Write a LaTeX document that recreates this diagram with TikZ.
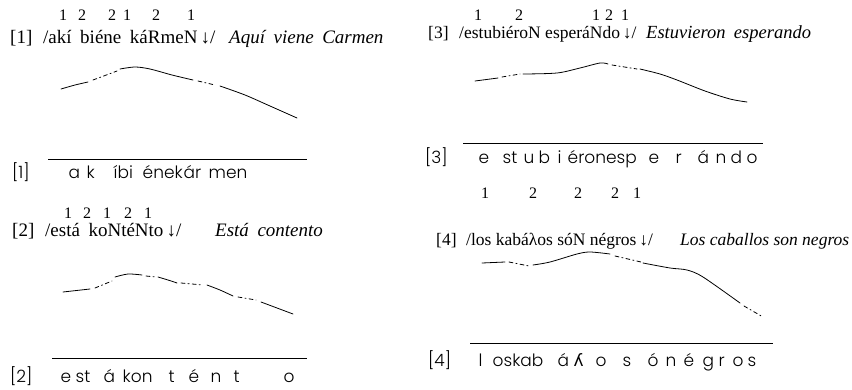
\documentclass[tikz,border=0pt]{standalone}
\usepackage{fontspec}
\setmainfont{Liberation Serif}
\newfontfamily\phonfont{Poppins}[UprightFont=* Light]
\newfontfamily\ipafont{DejaVu Sans}
\usepackage{tikz}
\usetikzlibrary{positioning}
% one letter group of a phonetic line, #1 pt from the line start
\newcommand{\seg}[2]{\rlap{\hspace*{#1pt}#2}}
\newcommand{\widesp}{\spaceskip=0.45em\relax}

\begin{document}
\begin{tikzpicture}[
  x = 1pt, y = -1pt,
  transcr/.style = {font=\fontsize{19}{21}\selectfont\widesp, inner sep=0pt, anchor=base west},
  gloss/.style = {transcr, font=\fontsize{19}{21}\selectfont\itshape\widesp},
  rtranscr/.style = {transcr, font=\fontsize{17.5}{19}\selectfont},
  rgloss/.style = {transcr, font=\fontsize{17.5}{19}\selectfont\itshape},
  tone/.style = {font=\fontsize{16}{18}\selectfont, inner sep=0pt, anchor=base},
  phon/.style = {font=\fontsize{17}{19}\phonfont, inner sep=0pt, anchor=base west},
  contour/.style = {line width=0.8pt, line cap=round},
  gapline/.style = {contour, dash pattern=on 4pt off 3pt on 1.2pt off 3pt},
  overbar/.style = {line width=0.8pt},
]
\useasboundingbox (0,0) rectangle (852,389);

% example 1
\foreach \x/\d [count=\i] in {63/1,82/2,112/2,127/1,156/2,191/1}
  \node[tone] (tone1-\i) at (\x,20) {\d};
\node[transcr] (num1) at (10,43) {[1]};
\node[transcr] (ipa1) at (43,43) {/akí biéne káRmeN\,↓/};
\node[gloss] (gl1) at (229,43) {Aquí viene Carmen};
\draw[contour] plot[smooth] coordinates {(61,89) (75,85) (88,82)};
\draw[gapline] (93,80) -- (117,71);
\draw[contour] plot[smooth] coordinates {(120,69) (135,67) (150,69) (172,75) (193,80)};
\draw[gapline] (198,81) -- (215,85);
\draw[contour] plot[smooth] coordinates {(220,86) (245,95) (270,106) (297,118)};
\coordinate (bar1a) at (48,159);
\coordinate (bar1b) at (307,159);
\draw[overbar] (bar1a) -- (bar1b);
\node[phon] (lab1) at (12,178) {[1]};
\node[phon] (ph1) at (68,178) {\seg{0}{a}\seg{18}{k}\seg{45}{íbi}\seg{74}{ének}\seg{115}{ár}\seg{140}{men}};

% example 2
\foreach \x/\d [count=\i] in {68/1,87/2,107/1,128/2,148/1}
  \node[tone] (tone2-\i) at (\x,218) {\d};
\node[transcr] (num2) at (12,236) {[2]};
\node[transcr] (ipa2) at (45,236) {/está koNtéNto\,↓/};
\node[gloss] (gl2) at (215,236) {Está contento};
\draw[contour] plot[smooth] coordinates {(63,292) (90,289)};
\draw[gapline] (95,288) -- (112,281);
\draw[contour] plot[smooth] coordinates {(115,277) (128,274) (142,275)};
\draw[gapline] (146,276) -- (156,277);
\draw[contour] plot[smooth] coordinates {(158,277) (168,280) (177,283)};
\draw[gapline] (181,283) -- (203,285);
\draw[contour] plot[smooth] coordinates {(207,285) (220,290) (233,296)};
\draw[gapline] (238,297) -- (256,300);
\draw[contour] plot[smooth] coordinates {(261,302) (277,308) (293,314)};
\coordinate (bar2a) at (52,358);
\coordinate (bar2b) at (307,358);
\draw[overbar] (bar2a) -- (bar2b);
\node[phon] (lab2) at (10,382) {[2]};
\node[phon] (ph2) at (60,382) {\seg{0}{e}\seg{15}{st}\seg{43}{á}\seg{62}{kon}\seg{108}{t}\seg{128}{é}\seg{150}{n}\seg{173}{t}\seg{223}{o}};

% example 3
\foreach \x/\d [count=\i] in {478/1,519/2,596/1,609/2,625/1}
  \node[tone] (tone3-\i) at (\x,20) {\d};
\node[rtranscr] (num3) at (428,38) {[3]};
\node[rtranscr] (ipa3) at (459,38) {/estubiéroN esperáNdo\,↓/};
\node[rgloss, font=\fontsize{18.5}{20}\selectfont\itshape\widesp] (gl3) at (646,38) {Estuvieron esperando};
\draw[contour] plot[smooth] coordinates {(475,81) (498,78)};
\draw[gapline] (502,77) -- (520,74);
\draw[contour] plot[smooth] coordinates {(523,74) (557,73) (580,68) (600,63) (608,64)};
\draw[gapline] (612,65) -- (637,69);
\draw[contour] plot[smooth] coordinates {(640,69) (660,74) (677,80) (705,91) (730,99) (747,102)};
\coordinate (bar3a) at (463,143);
\coordinate (bar3b) at (763,143);
\draw[overbar] (bar3a) -- (bar3b);
\node[phon] (lab3) at (425,163) {[3]};
\node[phon] (ph3) at (478,163) {\seg{0}{e}\seg{24}{st}\seg{45}{u}\seg{60}{b}\seg{79}{i}\seg{89}{éronesp}\seg{170}{e}\seg{197}{r}\seg{219}{á}\seg{237}{n}\seg{252}{d}\seg{268}{o}};

% example 4
\foreach \x/\d [count=\i] in {485/1,533/2,578/2,615/2,637/1}
  \node[tone] (tone4-\i) at (\x,198) {\d};
\node[rtranscr] (num4) at (436,245) {[4]};
\node[rtranscr] (ipa4) at (466,245) {/los kabáλos sóN négros\,↓/};
\node[rgloss] (gl4) at (680,245) {Los caballos son negros};
\draw[contour] plot[smooth] coordinates {(482,263) (505,262)};
\draw[gapline] (509,262) -- (529,266);
\draw[contour] plot[smooth] coordinates {(533,265) (550,262) (577,254) (590,252) (610,254)};
\draw[gapline] (615,256) -- (641,262);
\draw[contour] plot[smooth] coordinates {(643,263) (670,268) (687,270) (703,277) (740,303)};
\draw[gapline] (744,306) -- (763,317);
\coordinate (bar4a) at (470,343);
\coordinate (bar4b) at (773,343);
\draw[overbar] (bar4a) -- (bar4b);
\node[phon] (lab4) at (428,366) {[4]};
\node[phon] (ph4) at (478,366) {\seg{0}{l}\seg{14}{oskab}\seg{79}{á}\seg{95}{{\ipafont ʎ}}\seg{117}{o}\seg{144}{s}\seg{169}{ó}\seg{187}{n}\seg{205}{é}\seg{224}{g}\seg{240}{r}\seg{254}{o}\seg{269}{s}};
\end{tikzpicture}
\end{document}
